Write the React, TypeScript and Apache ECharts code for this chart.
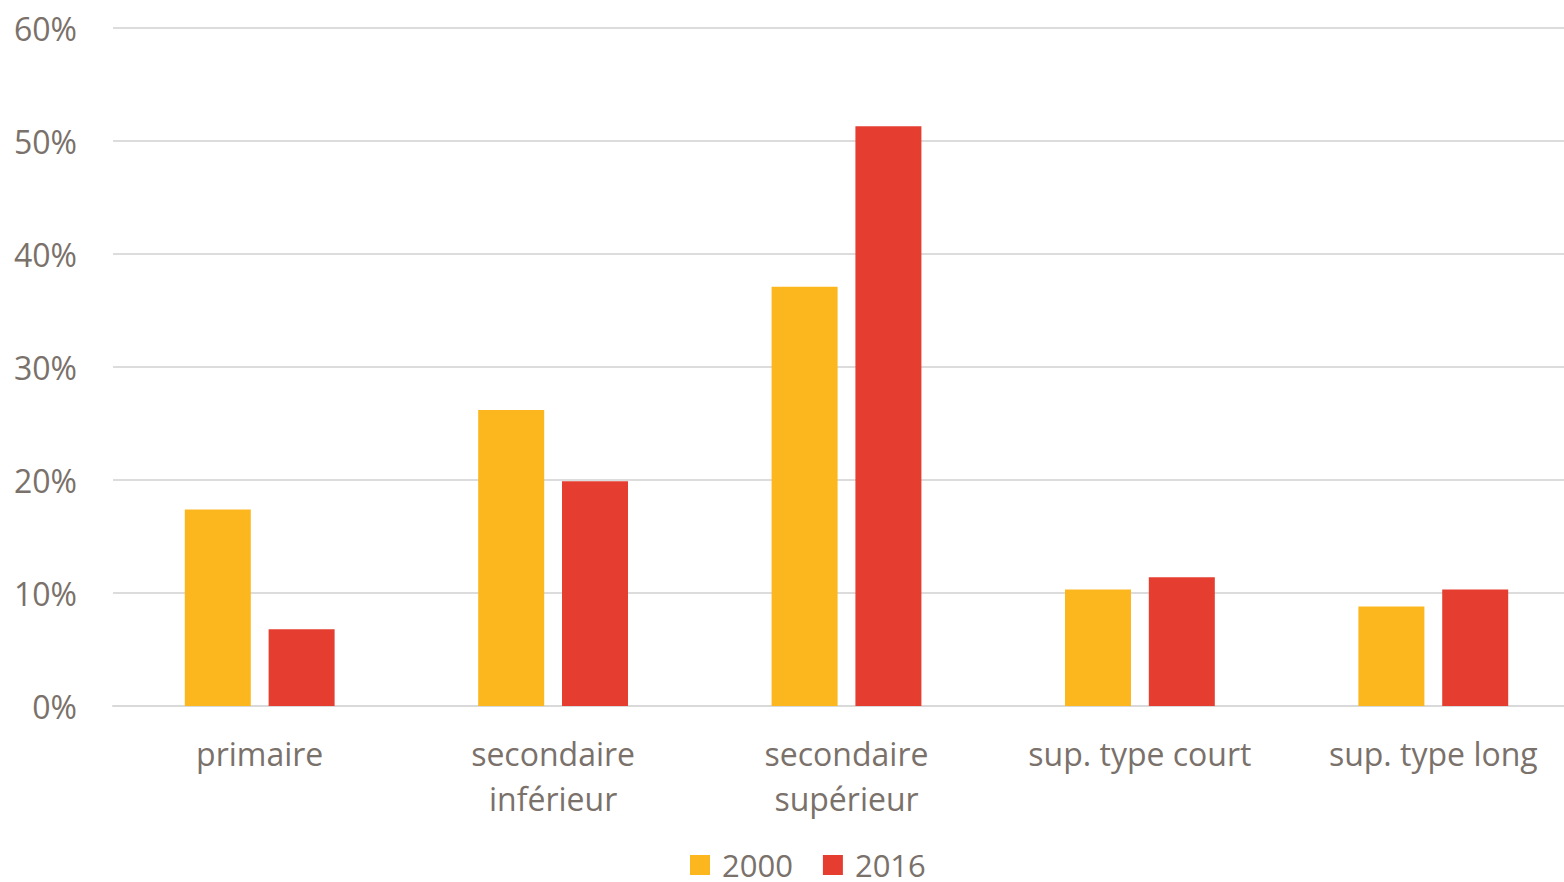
import React, { useEffect, useRef } from "react";
import * as echarts from "echarts";

const categories = ["primaire", "secondaire\ninférieur", "secondaire\nsupérieur", "sup. type court", "sup. type long"];
const values2000 = [17.4, 26.2, 37.1, 10.3, 8.8];
const values2016 = [6.8, 19.9, 51.3, 11.4, 10.3];
const seriesNames = ["2000", "2016"];

const textColor = "#7a716b";
const font = "'Open Sans', sans-serif";

export default function App() {
  const ref = useRef<HTMLDivElement>(null);
  useEffect(() => {
    if (!ref.current) return;
    const chart = echarts.init(ref.current, null, { renderer: "svg" });
    chart.setOption({
      animation: false,
      backgroundColor: "#ffffff",
      textStyle: { fontFamily: font },
      grid: { left: 113, right: 0, top: 28, bottom: 176 },
      legend: {
        data: seriesNames,
        bottom: 0,
        left: 690,
        padding: [0, 0, 1, 0],
        itemWidth: 20,
        itemHeight: 20,
        itemGap: 30,
        icon: "rect",
        textStyle: { color: textColor, fontSize: 31, lineHeight: 32, fontFamily: font, padding: [0, 0, 0, 7] },
      },
      xAxis: {
        type: "category",
        data: categories,
        axisLine: { lineStyle: { color: "#d9d9d9", width: 2 } },
        axisTick: { show: false },
        axisLabel: {
          color: textColor,
          fontSize: 32,
          fontFamily: font,
          lineHeight: 45,
          margin: 25,
          interval: 0,
        },
      },
      yAxis: {
        type: "value",
        min: 0,
        max: 60,
        interval: 10,
        axisLine: { show: false },
        axisTick: { show: false },
        splitLine: { lineStyle: { color: "#dcdcdc", width: 2 } },
        axisLabel: {
          color: textColor,
          fontSize: 32,
          fontFamily: font,
          formatter: "{value}%",
          margin: 36,
        },
      },
      series: [
        {
          name: seriesNames[0],
          type: "bar",
          data: values2000,
          itemStyle: { color: "#fdb71e" },
          barWidth: 66,
          barGap: "27%",
        },
        {
          name: seriesNames[1],
          type: "bar",
          data: values2016,
          itemStyle: { color: "#e53e31" },
          barWidth: 66,
          barGap: "27%",
        },
      ],
    });
    return () => chart.dispose();
  }, []);
  return (
    <div style={{ position: "fixed", left: 0, top: 0, width: 1564, height: 882, overflow: "hidden" }}>
      <div ref={ref} style={{ width: 1580, height: 882 }} />
    </div>
  );
}
